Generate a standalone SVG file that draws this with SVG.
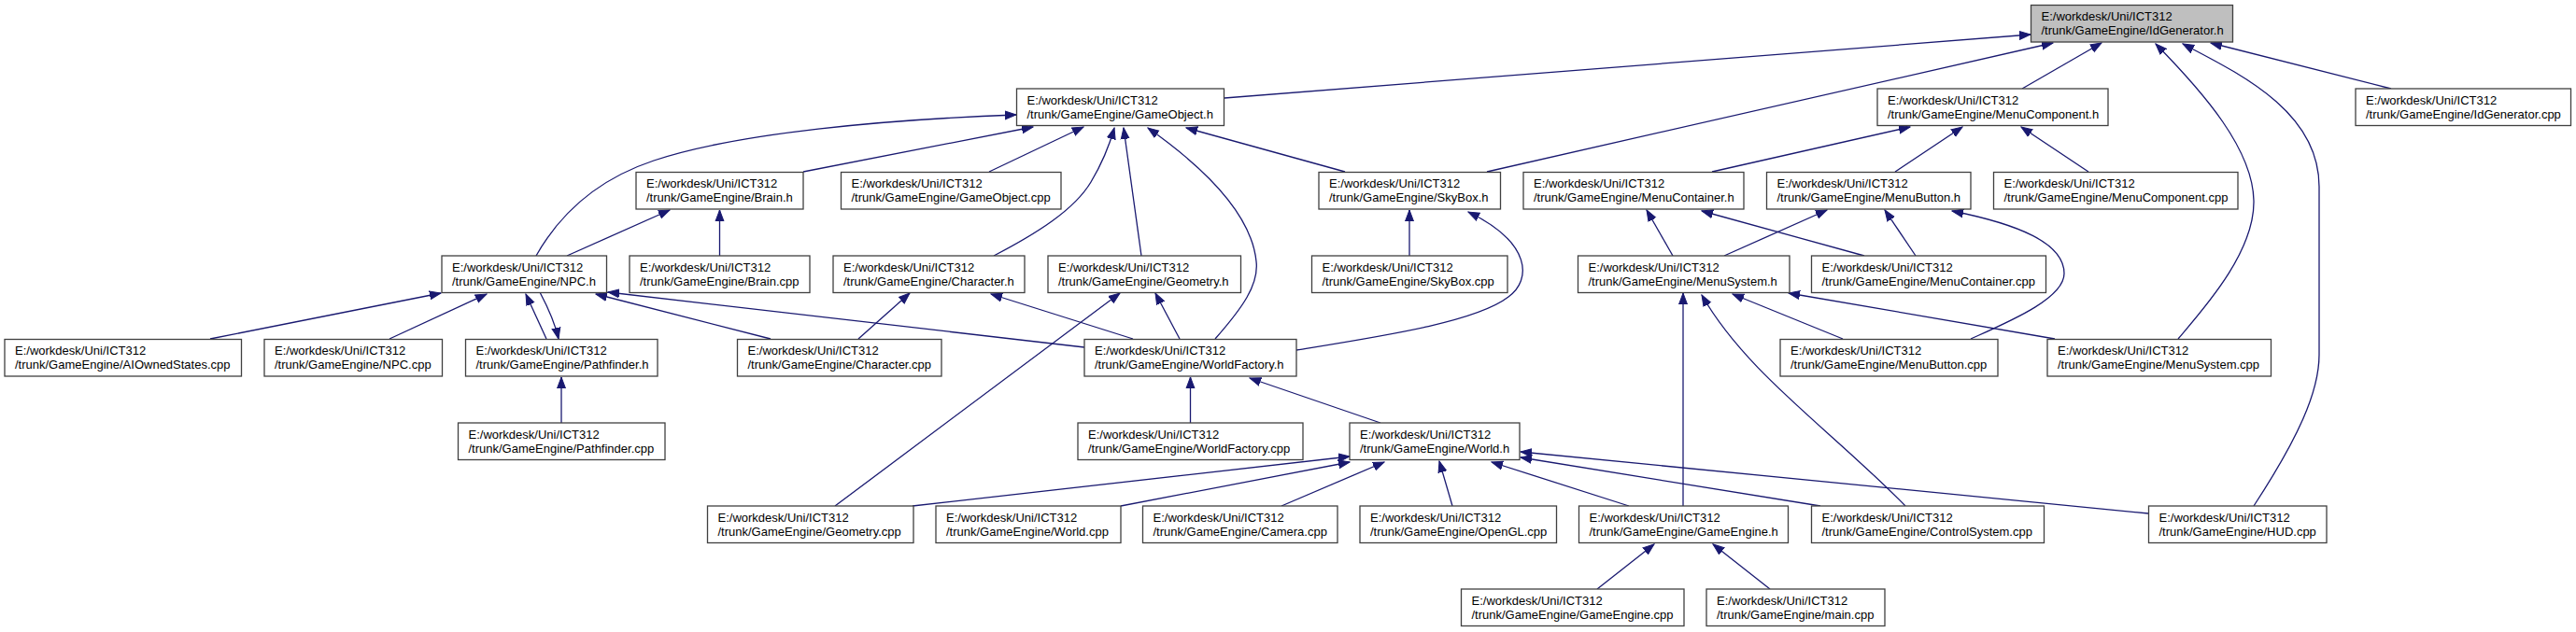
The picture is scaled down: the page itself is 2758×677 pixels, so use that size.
<svg xmlns="http://www.w3.org/2000/svg" width="2758" height="677" viewBox="0 0 2758 677">
<style>
.nd rect{fill:#ffffff;stroke:#404040;stroke-width:1.3}
.nd.root rect{fill:#bfbfbf}
.nd text{font-family:"Liberation Sans",Arial,sans-serif;font-size:13px;fill:#000000}
.ed path{fill:none;stroke:#191970;stroke-width:1.3;marker-end:url(#ah)}
</style>
<defs>
<marker id="ah" markerUnits="userSpaceOnUse" markerWidth="13" markerHeight="11" refX="12" refY="5" orient="auto" viewBox="0 0 13 10">
<path d="M0,0.5 L12,5 L0,9.5 z" fill="#191970" stroke="#191970" stroke-width="1"/>
</marker>
</defs>
<rect x="0" y="0" width="2758" height="677" fill="#ffffff"/>
<g id="edges" class="ed">
<path d="M1311,105 L2174,37"/>
<path d="M1592,184 L2198,46"/>
<path d="M2165,95 L2250,46"/>
<path d="M2332,363 C2360,330 2414,270 2413,215 C2412,160 2360,100 2308,47"/>
<path d="M2413,542 C2460,470 2483,420 2483,380 L2483,200 C2483,120 2400,80 2337,47"/>
<path d="M2560,95 L2367,46"/>
<path d="M574,274 C600,228 640,192 700,172 C790,142 950,128 1088,123"/>
<path d="M860,184 L1106,136"/>
<path d="M1059,184 L1160,136"/>
<path d="M1064,274 C1110,250 1150,225 1168,195 C1180,175 1188,155 1193,137"/>
<path d="M1222,274 L1203,137"/>
<path d="M1301,363 C1330,330 1348,305 1345,280 C1340,230 1290,180 1229,137"/>
<path d="M1440,184 L1270,137"/>
<path d="M225,363 L472,314"/>
<path d="M417,363 L521,315"/>
<path d="M585,363 L563,315"/>
<path d="M578,313 C587,330 594,345 598,363"/>
<path d="M825,363 L638,315"/>
<path d="M1161,372 L651,313"/>
<path d="M607,274 L717,225"/>
<path d="M770.5,274 L770.5,225"/>
<path d="M601,453 L601,404"/>
<path d="M919,363 L974,314"/>
<path d="M1213,363 L1061,315"/>
<path d="M1263,363 L1237,314"/>
<path d="M894,542 L1199,314"/>
<path d="M1509,274 L1509,225"/>
<path d="M1388,375 C1480,360 1580,345 1615,318 C1640,300 1640,260 1572,227"/>
<path d="M1833,184 L2045,136"/>
<path d="M2029,184 L2101,136"/>
<path d="M2236,184 L2164,136"/>
<path d="M1791,274 L1763,225"/>
<path d="M1996,274 L1822,226"/>
<path d="M1846,274 L1956,225"/>
<path d="M2051,274 L2018,225"/>
<path d="M2110,363 C2150,345 2210,320 2210,293 C2210,260 2160,240 2090,226"/>
<path d="M1802,542 L1802,314"/>
<path d="M2040,542 C1960,460 1870,400 1822,316"/>
<path d="M1973,363 L1855,315"/>
<path d="M2200,363 L1915,314"/>
<path d="M1274.5,453 L1274.5,404"/>
<path d="M1478,453 L1338,405"/>
<path d="M977,542 L1445,489"/>
<path d="M1200,542 L1445,495"/>
<path d="M1372,542 L1482,495"/>
<path d="M1555,542 L1541,494"/>
<path d="M1744,542 L1597,495"/>
<path d="M1949,542 L1628,490"/>
<path d="M2300,550 L1628,484"/>
<path d="M1710,631 L1771,583"/>
<path d="M1895,631 L1834,583"/>
</g>
<g id="n_IdGenerator_h" class="nd root"><rect x="2174.5" y="5.5" width="216" height="39.5"/><text x="2185.5" y="22">E:/workdesk/Uni/ICT312</text><text x="2185.5" y="37">/trunk/GameEngine/IdGenerator.h</text></g>
<g id="n_GameObject_h" class="nd"><rect x="1088.5" y="95" width="222" height="39.5"/><text x="1099.5" y="111.5">E:/workdesk/Uni/ICT312</text><text x="1099.5" y="126.5">/trunk/GameEngine/GameObject.h</text></g>
<g id="n_MenuComponent_h" class="nd"><rect x="2010" y="95" width="247" height="39.5"/><text x="2021" y="111.5">E:/workdesk/Uni/ICT312</text><text x="2021" y="126.5">/trunk/GameEngine/MenuComponent.h</text></g>
<g id="n_IdGenerator_cpp" class="nd"><rect x="2522" y="95" width="230.5" height="39.5"/><text x="2533" y="111.5">E:/workdesk/Uni/ICT312</text><text x="2533" y="126.5">/trunk/GameEngine/IdGenerator.cpp</text></g>
<g id="n_Brain_h" class="nd"><rect x="681" y="184.5" width="179" height="39.5"/><text x="692" y="201">E:/workdesk/Uni/ICT312</text><text x="692" y="216">/trunk/GameEngine/Brain.h</text></g>
<g id="n_GameObject_cpp" class="nd"><rect x="900.5" y="184.5" width="235.5" height="39.5"/><text x="911.5" y="201">E:/workdesk/Uni/ICT312</text><text x="911.5" y="216">/trunk/GameEngine/GameObject.cpp</text></g>
<g id="n_SkyBox_h" class="nd"><rect x="1412" y="184.5" width="194.5" height="39.5"/><text x="1423" y="201">E:/workdesk/Uni/ICT312</text><text x="1423" y="216">/trunk/GameEngine/SkyBox.h</text></g>
<g id="n_MenuContainer_h" class="nd"><rect x="1631" y="184.5" width="236" height="39.5"/><text x="1642" y="201">E:/workdesk/Uni/ICT312</text><text x="1642" y="216">/trunk/GameEngine/MenuContainer.h</text></g>
<g id="n_MenuButton_h" class="nd"><rect x="1891.5" y="184.5" width="218.5" height="39.5"/><text x="1902.5" y="201">E:/workdesk/Uni/ICT312</text><text x="1902.5" y="216">/trunk/GameEngine/MenuButton.h</text></g>
<g id="n_MenuComponent_cpp" class="nd"><rect x="2134.5" y="184.5" width="261.5" height="39.5"/><text x="2145.5" y="201">E:/workdesk/Uni/ICT312</text><text x="2145.5" y="216">/trunk/GameEngine/MenuComponent.cpp</text></g>
<g id="n_NPC_h" class="nd"><rect x="473" y="274" width="176.5" height="39.5"/><text x="484" y="290.5">E:/workdesk/Uni/ICT312</text><text x="484" y="305.5">/trunk/GameEngine/NPC.h</text></g>
<g id="n_Brain_cpp" class="nd"><rect x="674" y="274" width="193" height="39.5"/><text x="685" y="290.5">E:/workdesk/Uni/ICT312</text><text x="685" y="305.5">/trunk/GameEngine/Brain.cpp</text></g>
<g id="n_Character_h" class="nd"><rect x="892" y="274" width="205" height="39.5"/><text x="903" y="290.5">E:/workdesk/Uni/ICT312</text><text x="903" y="305.5">/trunk/GameEngine/Character.h</text></g>
<g id="n_Geometry_h" class="nd"><rect x="1122" y="274" width="206.5" height="39.5"/><text x="1133" y="290.5">E:/workdesk/Uni/ICT312</text><text x="1133" y="305.5">/trunk/GameEngine/Geometry.h</text></g>
<g id="n_SkyBox_cpp" class="nd"><rect x="1404.5" y="274" width="209.5" height="39.5"/><text x="1415.5" y="290.5">E:/workdesk/Uni/ICT312</text><text x="1415.5" y="305.5">/trunk/GameEngine/SkyBox.cpp</text></g>
<g id="n_MenuSystem_h" class="nd"><rect x="1689.5" y="274" width="226.5" height="39.5"/><text x="1700.5" y="290.5">E:/workdesk/Uni/ICT312</text><text x="1700.5" y="305.5">/trunk/GameEngine/MenuSystem.h</text></g>
<g id="n_MenuContainer_cpp" class="nd"><rect x="1939.5" y="274" width="251" height="39.5"/><text x="1950.5" y="290.5">E:/workdesk/Uni/ICT312</text><text x="1950.5" y="305.5">/trunk/GameEngine/MenuContainer.cpp</text></g>
<g id="n_AIOwnedStates_cpp" class="nd"><rect x="5" y="363.5" width="253.5" height="39.5"/><text x="16" y="380">E:/workdesk/Uni/ICT312</text><text x="16" y="395">/trunk/GameEngine/AIOwnedStates.cpp</text></g>
<g id="n_NPC_cpp" class="nd"><rect x="283" y="363.5" width="190.5" height="39.5"/><text x="294" y="380">E:/workdesk/Uni/ICT312</text><text x="294" y="395">/trunk/GameEngine/NPC.cpp</text></g>
<g id="n_Pathfinder_h" class="nd"><rect x="498.5" y="363.5" width="205.5" height="39.5"/><text x="509.5" y="380">E:/workdesk/Uni/ICT312</text><text x="509.5" y="395">/trunk/GameEngine/Pathfinder.h</text></g>
<g id="n_Character_cpp" class="nd"><rect x="789.5" y="363.5" width="218.5" height="39.5"/><text x="800.5" y="380">E:/workdesk/Uni/ICT312</text><text x="800.5" y="395">/trunk/GameEngine/Character.cpp</text></g>
<g id="n_WorldFactory_h" class="nd"><rect x="1161" y="363.5" width="227" height="39.5"/><text x="1172" y="380">E:/workdesk/Uni/ICT312</text><text x="1172" y="395">/trunk/GameEngine/WorldFactory.h</text></g>
<g id="n_MenuButton_cpp" class="nd"><rect x="1906" y="363.5" width="233" height="39.5"/><text x="1917" y="380">E:/workdesk/Uni/ICT312</text><text x="1917" y="395">/trunk/GameEngine/MenuButton.cpp</text></g>
<g id="n_MenuSystem_cpp" class="nd"><rect x="2192" y="363.5" width="239.5" height="39.5"/><text x="2203" y="380">E:/workdesk/Uni/ICT312</text><text x="2203" y="395">/trunk/GameEngine/MenuSystem.cpp</text></g>
<g id="n_Pathfinder_cpp" class="nd"><rect x="490.5" y="453" width="221.5" height="39.5"/><text x="501.5" y="469.5">E:/workdesk/Uni/ICT312</text><text x="501.5" y="484.5">/trunk/GameEngine/Pathfinder.cpp</text></g>
<g id="n_WorldFactory_cpp" class="nd"><rect x="1154" y="453" width="241" height="39.5"/><text x="1165" y="469.5">E:/workdesk/Uni/ICT312</text><text x="1165" y="484.5">/trunk/GameEngine/WorldFactory.cpp</text></g>
<g id="n_World_h" class="nd"><rect x="1445" y="453" width="182" height="39.5"/><text x="1456" y="469.5">E:/workdesk/Uni/ICT312</text><text x="1456" y="484.5">/trunk/GameEngine/World.h</text></g>
<g id="n_Geometry_cpp" class="nd"><rect x="757.5" y="542" width="220.5" height="39.5"/><text x="768.5" y="558.5">E:/workdesk/Uni/ICT312</text><text x="768.5" y="573.5">/trunk/GameEngine/Geometry.cpp</text></g>
<g id="n_World_cpp" class="nd"><rect x="1002" y="542" width="198" height="39.5"/><text x="1013" y="558.5">E:/workdesk/Uni/ICT312</text><text x="1013" y="573.5">/trunk/GameEngine/World.cpp</text></g>
<g id="n_Camera_cpp" class="nd"><rect x="1223.5" y="542" width="208.5" height="39.5"/><text x="1234.5" y="558.5">E:/workdesk/Uni/ICT312</text><text x="1234.5" y="573.5">/trunk/GameEngine/Camera.cpp</text></g>
<g id="n_OpenGL_cpp" class="nd"><rect x="1456" y="542" width="210.5" height="39.5"/><text x="1467" y="558.5">E:/workdesk/Uni/ICT312</text><text x="1467" y="573.5">/trunk/GameEngine/OpenGL.cpp</text></g>
<g id="n_GameEngine_h" class="nd"><rect x="1690.5" y="542" width="224" height="39.5"/><text x="1701.5" y="558.5">E:/workdesk/Uni/ICT312</text><text x="1701.5" y="573.5">/trunk/GameEngine/GameEngine.h</text></g>
<g id="n_ControlSystem_cpp" class="nd"><rect x="1939.5" y="542" width="249" height="39.5"/><text x="1950.5" y="558.5">E:/workdesk/Uni/ICT312</text><text x="1950.5" y="573.5">/trunk/GameEngine/ControlSystem.cpp</text></g>
<g id="n_HUD_cpp" class="nd"><rect x="2300.5" y="542" width="190.5" height="39.5"/><text x="2311.5" y="558.5">E:/workdesk/Uni/ICT312</text><text x="2311.5" y="573.5">/trunk/GameEngine/HUD.cpp</text></g>
<g id="n_GameEngine_cpp" class="nd"><rect x="1564.5" y="631" width="238.5" height="39.5"/><text x="1575.5" y="647.5">E:/workdesk/Uni/ICT312</text><text x="1575.5" y="662.5">/trunk/GameEngine/GameEngine.cpp</text></g>
<g id="n_main_cpp" class="nd"><rect x="1827" y="631" width="191" height="39.5"/><text x="1838" y="647.5">E:/workdesk/Uni/ICT312</text><text x="1838" y="662.5">/trunk/GameEngine/main.cpp</text></g>
</svg>
